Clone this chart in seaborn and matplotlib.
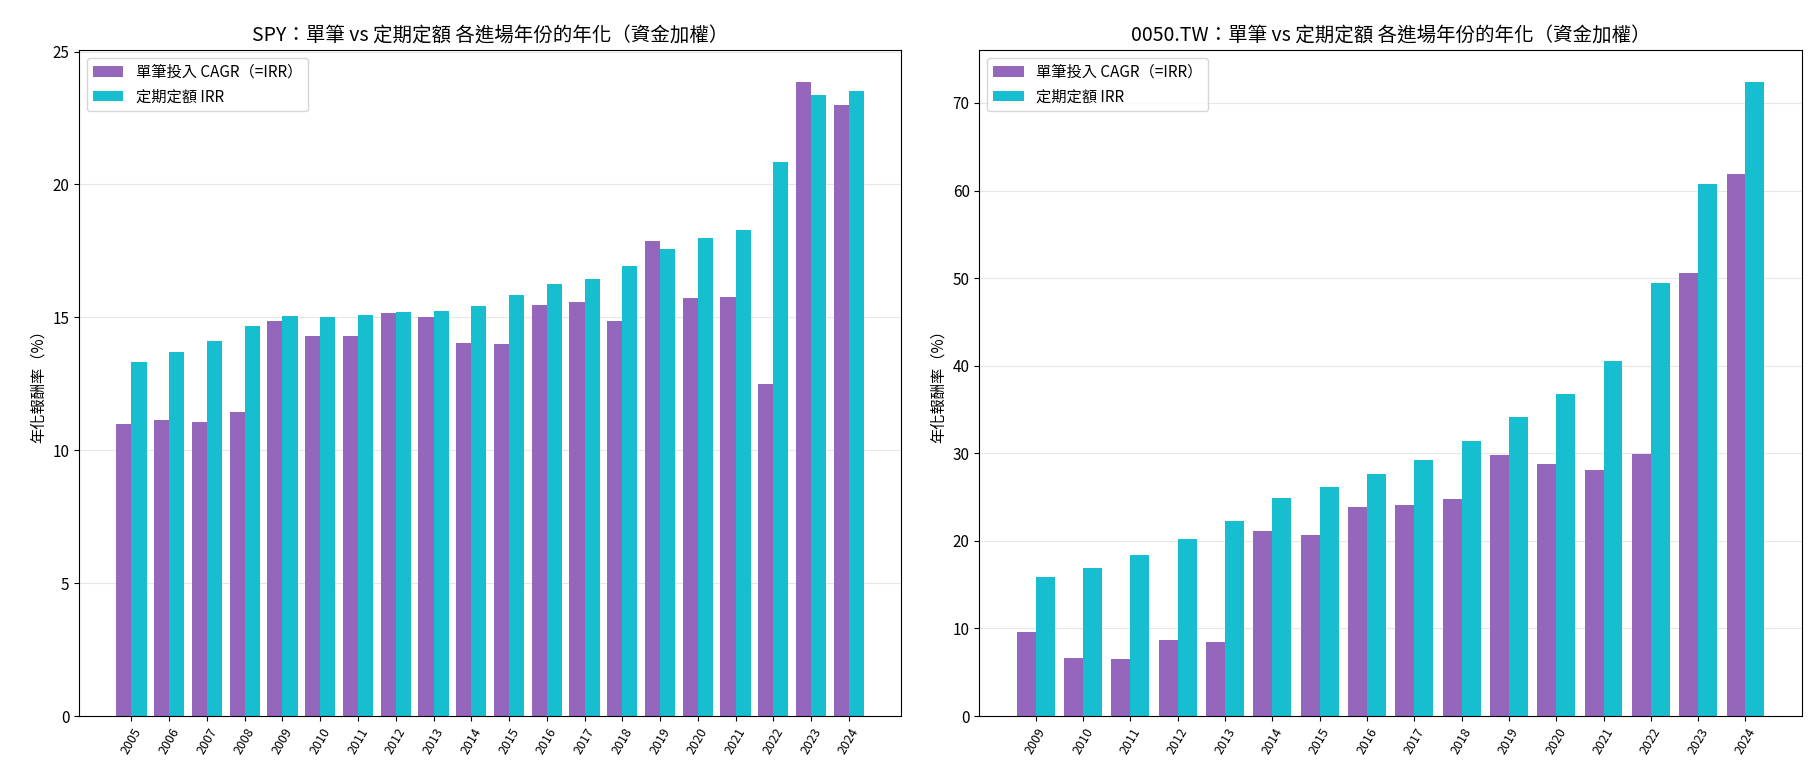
import numpy as np
import pandas as pd
import seaborn as sns
import matplotlib.pyplot as plt

plt.rcParams['font.family'] = ['Noto Sans CJK TC', 'DejaVu Sans']

# SPY
spy_years = [str(y) for y in range(2005, 2025)]
spy_lump = [11.0, 11.15, 11.06, 11.45, 14.86, 14.30, 14.30, 15.16, 15.01, 14.04,
            14.00, 15.46, 15.58, 14.86, 17.87, 15.73, 15.76, 12.49, 23.87, 22.98]
spy_dca = [13.32, 13.70, 14.11, 14.67, 15.05, 15.01, 15.09, 15.20, 15.24, 15.43,
           15.84, 16.25, 16.44, 16.93, 17.57, 17.98, 18.28, 20.83, 23.35, 23.53]

# 0050.TW
tw_years = [str(y) for y in range(2009, 2025)]
tw_lump = [9.56, 6.60, 6.48, 8.65, 8.42, 21.16, 20.70, 23.90, 24.12, 24.80,
           29.80, 28.78, 28.10, 29.92, 50.53, 61.83]
tw_dca = [15.93, 16.95, 18.43, 20.25, 22.30, 24.92, 26.17, 27.65, 29.24, 31.40,
          34.10, 36.73, 40.50, 49.40, 60.80, 72.43]

lab_lump = '單筆投入 CAGR（=IRR）'
lab_dca = '定期定額 IRR'
palette = {lab_lump: '#9467bd', lab_dca: '#17becf'}


def make_df(years, lump, dca):
    a = pd.DataFrame({'year': years, 'val': lump, 'kind': lab_lump})
    b = pd.DataFrame({'year': years, 'val': dca, 'kind': lab_dca})
    return pd.concat([a, b], ignore_index=True)


fig, axes = plt.subplots(1, 2, figsize=(18.2, 7.8), dpi=100)
fig.subplots_adjust(left=0.0434, right=0.990, bottom=0.082, top=0.936, wspace=0.095)

panels = [('SPY：單筆 vs 定期定額 各進場年份的年化（資金加權）', spy_years, spy_lump, spy_dca),
          ('0050.TW：單筆 vs 定期定額 各進場年份的年化（資金加權）', tw_years, tw_lump, tw_dca)]

for ax, (title, years, lump, dca) in zip(axes, panels):
    df = make_df(years, lump, dca)
    sns.barplot(data=df, x='year', y='val', hue='kind', palette=palette,
                saturation=1, width=0.8, ax=ax)
    n = len(years)
    ax.set_xlim(-0.4 - 0.05 * (n - 0.2), n - 0.6 + 0.05 * (n - 0.2))
    ax.set_ylim(0, max(max(lump), max(dca)) * 1.05)
    ax.set_title(title, fontsize=14)
    ax.set_xlabel('')
    ax.set_ylabel('年化報酬率（%）', fontsize=11)
    ax.tick_params(axis='x', labelrotation=60, labelsize=9)
    ax.tick_params(axis='y', labelsize=11)
    ax.grid(axis='y', alpha=0.3)
    ax.set_axisbelow(True)
    ax.legend(loc='upper left', fontsize=11, title=None)

plt.savefig('out.png')
